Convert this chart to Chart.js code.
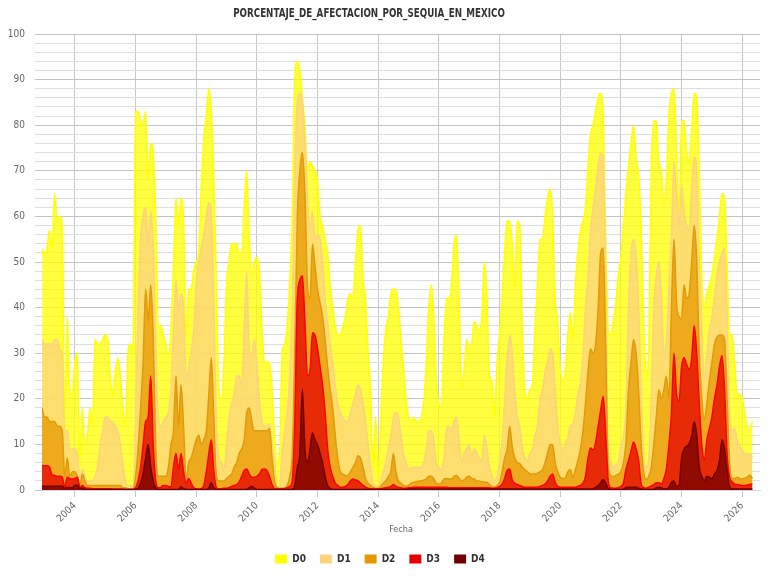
<!DOCTYPE html>
<html>
<head>
<meta charset="utf-8">
<script src="https://cdn.jsdelivr.net/npm/chart.js@4.4.1/dist/chart.umd.min.js"></script>
<style>
  body { margin: 0; background: #fff; }
  #caja { position: relative; width: 768px; height: 576px; }
  #titulo {
    position: absolute; left: 0; top: 6px; width: 738px;
    text-align: center; font: bold 12px 'Liberation Sans Narrow', 'DejaVu Sans Condensed', sans-serif;
    color: #333; line-height: 14px;
    transform: scaleX(0.81); transform-origin: 369px 0;
  }
</style>
</head>
<body>
<div id="caja">
  <canvas id="grafica" width="768" height="576"></canvas>
  <div id="titulo">PORCENTAJE_DE_AFECTACION_POR_SEQUIA_EN_MEXICO</div>
</div>
<script>
// Porcentaje del territorio con sequia, un valor por mes (dic 2002 - may 2026)
// Bloques: dic 2002 + 2003, luego un renglon por año
const D0 = [
  53, 52, 53, 57, 53, 65, 59, 60, 58, 14, 38, 22, 21,
  28, 30, 6, 18, 10, 12, 18, 14, 33, 32, 32, 33,
  34, 33, 25, 21, 26, 29, 25, 18, 14, 30, 32, 30,
  83, 83, 81, 80, 83, 68, 76, 74, 60, 36, 36, 34,
  32, 29, 35, 49, 64, 58, 64, 59, 33, 44, 44, 48,
  50, 52, 66, 77, 82, 88, 83, 68, 45, 22, 20, 28,
  45, 50, 54, 54, 54, 52, 52, 62, 70, 55, 47, 50,
  51, 48, 36, 28, 28, 28, 22, 12, 6, 8, 30, 32,
  36, 45, 60, 90, 94, 92, 86, 80, 70, 72, 71, 70,
  68, 60, 58, 55, 52, 45, 40, 36, 34, 34, 36, 38,
  42, 43, 42, 50, 57, 58, 46, 42, 30, 22, 5, 16,
  3, 15, 28, 35, 38, 43, 44, 44, 40, 33, 27, 20,
  16, 15, 16, 15, 15, 16, 19, 28, 40, 45, 38, 24,
  19, 18, 32, 42, 42, 45, 54, 56, 42, 22, 26, 33,
  31, 32, 37, 36, 35, 38, 50, 43, 25, 24, 16, 28,
  34, 42, 52, 59, 59, 54, 44, 59, 58, 36, 22, 20,
  22, 23, 35, 45, 55, 55, 60, 64, 66, 60, 42, 37,
  27, 24, 26, 34, 39, 33, 45, 52, 57, 59, 62, 71,
  78, 80, 83, 86, 87, 82, 55, 35, 34, 37, 41, 47,
  51, 58, 65, 71, 76, 80, 73, 69, 58, 38, 25, 30,
  70, 81, 81, 72, 70, 63, 68, 82, 87, 88, 75, 60,
  81, 81, 74, 72, 79, 87, 86, 70, 47, 40, 43, 45,
  47, 51, 55, 60, 65, 64, 50, 34, 34, 28, 21, 21,
  20, 17, 14, 13, 15
];

const D1 = [
  33, 32, 32, 32, 32, 33, 33, 31, 30, 13, 13, 9, 9,
  9, 8, 3, 4.5, 3, 2, 2, 2, 3, 5, 10, 13,
  16, 16, 15, 15, 14, 13, 10, 6, 2, 1, 1, 1,
  15, 40, 55, 60, 62, 54, 61, 54, 34, 16, 14, 15,
  16, 17, 22, 35, 46, 40, 43, 40, 24, 27, 30, 35,
  45, 50, 53, 56, 60, 63, 60, 40, 15, 7, 6, 4,
  10, 16, 19, 21, 25, 25, 23, 35, 48, 30, 30, 33,
  28, 20, 15, 14, 14, 14.5, 10, 6, 1, 0.6, 8, 13,
  17, 25, 40, 70, 85, 87, 85, 77, 65, 57, 61, 55,
  56, 55, 50, 42, 37, 32, 28, 23, 19, 17, 16, 15,
  15, 17, 19, 21, 23, 22, 19, 15, 10, 5, 1.3, 1,
  0.6, 2, 4, 6, 9, 12, 16, 17, 16, 12, 8, 6,
  4.5, 5, 5, 5, 5, 5, 6, 9, 13, 13, 11, 6,
  5, 4.5, 7, 13, 14, 13, 15, 16, 11, 6, 8, 9,
  10, 7, 9, 8, 7, 6.5, 12, 9, 5, 3, 2, 3,
  6, 11, 19, 29, 34, 30, 22, 16, 14, 9, 7, 6.5,
  8, 9, 12, 14, 20, 22, 26, 28, 31, 30, 22, 14,
  10, 9, 10, 11.5, 14, 14.5, 17, 21, 23.5, 30, 40, 47,
  57, 62, 66, 71, 74, 73, 45, 8, 6, 5, 5.5, 6,
  9.5, 12, 18, 40, 52, 55, 51, 40, 22, 7, 5, 7,
  20, 40, 47, 50, 43, 30, 33, 45, 56, 72, 65, 58,
  67, 61, 58, 57, 66, 73, 70, 50, 36, 24, 30, 35,
  38, 42, 47, 50, 52, 53, 38, 16, 13, 13.5, 11, 9.5,
  8.7, 8, 7.8, 8, 7.2
];

const D2 = [
  18, 16, 16, 15, 15, 15, 14, 14, 13, 3, 7, 3, 4,
  4, 3, 1, 3.5, 2, 1, 1, 1, 1, 1, 1, 1,
  1, 1, 1, 1, 1, 1, 1, 0.5, 0.5, 0.3, 0.3, 0.2,
  3, 9, 18, 28, 44, 37, 45, 34, 9, 3, 3, 3,
  3, 5, 10, 13, 25, 14, 23, 14, 2, 6, 7, 9,
  11, 12, 10, 11, 13, 21, 29, 15, 3, 2, 2, 2,
  2.5, 3, 3.5, 5, 6, 8, 9, 11, 17, 18, 15, 13,
  13, 13, 13, 13, 13, 13.5, 7, 2, 0.5, 0.4, 0.4, 0.5,
  1, 3, 8, 30, 60, 70, 74, 65, 45, 42, 54, 49,
  44, 41, 38, 33, 27, 22, 18, 12, 7, 4, 3.5, 3.2,
  3.2, 4, 5, 6, 7.5, 7, 5, 2.5, 1.5, 1, 0.6, 0.4,
  0.4, 0.8, 1.5, 2, 3, 4, 8, 4, 2, 1.5, 1, 0.8,
  1, 1.5, 1.7, 1.8, 2, 2, 2.2, 2.4, 3, 3, 2.4, 1.5,
  1.3, 1.5, 2.4, 2.5, 2.4, 2.4, 3, 3.2, 2.5, 2, 2.2, 2.8,
  3, 2.5, 2.4, 2, 2, 1.8, 1.7, 1.7, 1.2, 0.8, 0.6, 1,
  1.7, 4, 7, 9, 14, 9.5, 7, 6, 5.8, 5, 4.5, 4,
  3.6, 3.5, 3.5, 3.7, 4, 4.5, 6, 8, 10, 10, 6, 4,
  2.8, 2.5, 2.6, 4, 4.5, 2.8, 4.5, 6.5, 9, 13, 19, 26,
  31, 30, 32, 40, 52, 53, 30, 5, 3.2, 2.9, 3.2, 3.5,
  4, 6, 10.5, 22, 28, 33, 30, 22, 10, 4, 2.3, 3,
  5, 10, 16, 22, 20, 22, 25, 20, 40, 55, 41, 38,
  37.5, 45, 42, 43, 50, 58, 50, 30, 20, 15.5, 19, 24,
  28, 32, 33.5, 34, 34, 33, 20, 6, 2.5, 2.5, 2.8, 2.5,
  2.4, 2.6, 2.8, 3.3, 2.5
];

const D3 = [
  5.3, 5.3, 5.3, 5, 3.3, 3.2, 3, 3, 2.8, 0.6, 2.8, 2.5, 2.4,
  2.5, 2.8, 0.6, 1, 0.5, 0.4, 0.4, 0.3, 0.3, 0.3, 0.3, 0.3,
  0.3, 0.3, 0.3, 0.2, 0.2, 0.2, 0.2, 0.2, 0.1, 0.1, 0.1, 0.1,
  0.5, 2, 5, 10, 15, 16, 25, 10, 2, 0.5, 0.6, 1,
  1, 0.8, 0.6, 5, 8, 4.5, 8, 4, 1.5, 2.5, 1.5, 0.5,
  0.3, 0.2, 0.3, 1, 4, 8, 11, 4, 0.5, 0.2, 0.3, 0.4,
  0.4, 0.5, 0.8, 1, 1.2, 1.8, 3, 4.3, 4.6, 3.5, 2.8, 2.8,
  3, 3.5, 4.5, 4.6, 4.3, 3, 1.2, 0.3, 0.2, 0.2, 0.3, 0.3,
  0.5, 0.8, 2, 15, 42, 46, 47, 37, 25, 26, 34.5, 34,
  31, 27, 23, 17, 9, 5, 3, 1.5, 1, 0.6, 0.6, 0.8,
  1.2, 2, 2.4, 2.2, 2, 1.5, 1, 0.6, 0.4, 0.3, 0.2, 0.2,
  0.2, 0.3, 0.4, 0.5, 0.6, 0.8, 1.2, 0.8, 0.6, 0.5, 0.4, 0.4,
  0.5, 0.5, 0.6, 0.6, 0.6, 0.6, 0.6, 0.6, 0.6, 0.6, 0.6, 0.6,
  0.6, 0.6, 0.6, 0.6, 0.5, 0.5, 0.5, 0.5, 0.5, 0.5, 0.5, 0.5,
  0.5, 0.5, 0.5, 0.5, 0.5, 0.5, 0.5, 0.5, 0.5, 0.4, 0.4, 0.5,
  0.8, 1.3, 2.5, 4.3, 4.6, 2.2, 1.5, 1.2, 1, 0.8, 0.6, 0.6,
  0.6, 0.6, 0.6, 0.6, 0.8, 1, 1.3, 2, 3, 3.5, 1.7, 0.8,
  0.6, 0.6, 0.6, 0.6, 0.6, 0.6, 0.6, 0.8, 1, 1.5, 3, 7,
  9.2, 8.8, 10.5, 14, 17.5, 20.5, 12, 2, 0.5, 0.4, 0.4, 0.5,
  0.8, 1.5, 4.5, 6.5, 8.5, 10.5, 9, 6.5, 1.3, 0.5, 0.4, 0.6,
  0.9, 1.2, 1.6, 1.6, 1.3, 2.5, 4.7, 10, 17, 30, 21, 19.5,
  27, 29, 27.5, 26.5, 29, 36, 30, 19, 10, 6.5, 11, 13.5,
  16, 20, 23, 27, 29.5, 22, 8, 2.8, 1.8, 1.3, 1.2, 1.1,
  1, 1, 1.1, 1.2, 1.3
];

const D4 = [
  0.8, 0.8, 0.8, 0.8, 0.8, 0.8, 0.8, 0.8, 0.8, 0.3, 0.6, 0.5, 0.5,
  1, 1.1, 0.3, 0.5, 0.1, 0.1, 0.1, 0.1, 0.1, 0.1, 0.1, 0.1,
  0.1, 0.1, 0.1, 0.1, 0.1, 0.1, 0.1, 0.1, 0.1, 0.1, 0.1, 0.1,
  0.1, 0.3, 1.5, 3.7, 7, 10, 5, 2, 0.5, 0.1, 0.1, 0.1,
  0.1, 0.1, 0.1, 0.1, 0.1, 0.1, 0.7, 0.3, 0.1, 0.1, 0.1, 0.1,
  0.1, 0.1, 0.1, 0.1, 0.1, 0.5, 1.6, 0.5, 0.1, 0.1, 0.1, 0.1,
  0.1, 0.1, 0.1, 0.1, 0.1, 0.1, 0.1, 0.1, 0.1, 0.5, 0.8, 0.4,
  0.1, 0.1, 0.1, 0.1, 0.1, 0.1, 0.1, 0.1, 0.1, 0.1, 0.1, 0.1,
  0.1, 0.1, 0.1, 1, 5, 8, 22, 9, 6, 9, 12.5, 11,
  10, 8, 6, 3, 1, 0.3, 0.1, 0.1, 0.1, 0.1, 0.1, 0.1,
  0.1, 0.1, 0.1, 0.1, 0.1, 0.1, 0.1, 0.1, 0.1, 0.1, 0.1, 0.1,
  0.1, 0.1, 0.1, 0.1, 0.1, 0.1, 0.1, 0.1, 0.1, 0.1, 0.1, 0.1,
  0.2, 0.2, 0.2, 0.2, 0.2, 0.2, 0.2, 0.2, 0.2, 0.2, 0.2, 0.2,
  0.2, 0.2, 0.2, 0.2, 0.2, 0.2, 0.2, 0.2, 0.2, 0.2, 0.2, 0.2,
  0.2, 0.2, 0.2, 0.2, 0.2, 0.2, 0.2, 0.2, 0.2, 0.2, 0.2, 0.2,
  0.2, 0.2, 0.2, 0.2, 0.3, 0.2, 0.2, 0.2, 0.2, 0.2, 0.2, 0.2,
  0.2, 0.2, 0.2, 0.2, 0.2, 0.2, 0.2, 0.2, 0.3, 0.3, 0.2, 0.2,
  0.2, 0.2, 0.2, 0.2, 0.2, 0.2, 0.2, 0.2, 0.2, 0.2, 0.2, 0.2,
  0.2, 0.3, 0.6, 1, 1.6, 2.3, 1.5, 0.3, 0.1, 0.1, 0.1, 0.1,
  0.1, 0.2, 0.5, 0.6, 0.6, 0.6, 0.6, 0.4, 0.2, 0.1, 0.1, 0.1,
  0.1, 0.1, 0.5, 0.6, 0.5, 0.2, 0.2, 0.6, 1.7, 2, 0.8, 1,
  7, 9, 9.6, 10.2, 11.8, 15, 12, 5, 3, 2, 3, 2.8,
  2.5, 3.5, 4.3, 6.5, 11, 9, 4.5, 0.8, 0.2, 0.2, 0.2, 0.2,
  0.2, 0.2, 0.2, 0.2, 0.2
];

// Meses de cada registro, "AAAA-MM", empezando en diciembre de 2002
const fechas = [];
for (let i = 0; i < D0.length; i++) {
  const t = 2002 * 12 + 11 + i;
  fechas.push(Math.floor(t / 12) + "-" + String((t % 12) + 1).padStart(2, "0"));
}

// Etiquetas del eje x cada dos años
const aniosEje = [2004, 2006, 2008, 2010, 2012, 2014, 2016, 2018, 2020, 2022, 2024, 2026];

// Fecha "AAAA-MM" a año decimal para la escala lineal
function anioDecimal(f) {
  const [a, m] = f.split("-").map(Number);
  return a + (m - 1) / 12;
}

const xs = fechas.map(anioDecimal);

function serie(valores) {
  return valores.map((v, i) => ({ x: xs[i], y: v }));
}

const fuente = "'Liberation Sans Narrow', 'DejaVu Sans Condensed', sans-serif";

const capas = [
  { label: "D0", data: D0, linea: "#FFFF00", relleno: "rgba(255,255,0,0.75)", caja: "#FFFF00" },
  { label: "D1", data: D1, linea: "#FCD37F", relleno: "rgba(252,211,127,0.75)", caja: "#FFD27F" },
  { label: "D2", data: D2, linea: "#E39A08", relleno: "rgba(230,152,0,0.75)", caja: "#E69800" },
  { label: "D3", data: D3, linea: "#FF0000", relleno: "rgba(230,0,0,0.75)", caja: "#E60000" },
  { label: "D4", data: D4, linea: "#730000", relleno: "rgba(115,0,0,0.75)", caja: "#730000" },
];

const datasets = capas.map((c, i) => ({
  label: c.label,
  data: serie(c.data),
  borderColor: c.linea,
  backgroundColor: c.relleno,
  legendColor: c.caja,
  borderWidth: 1.5,
  fill: "origin",
  pointRadius: 0,
  tension: 0.3,
  cubicInterpolationMode: "monotone",
  order: capas.length - i, // D4 queda arriba
}));

new Chart(document.getElementById("grafica"), {
  type: "line",
  data: { datasets },
  options: {
    responsive: false,
    animation: false,
    layout: { padding: { top: 34, right: 8, left: 0, bottom: 2 } },
    plugins: {
      tooltip: { enabled: false },
      legend: {
        position: "bottom",
        labels: {
          boxWidth: 12,
          boxHeight: 9,
          padding: 14,
          color: "#333",
          font: { family: fuente, size: 10, weight: "bold" },
          sort: (a, b) => a.datasetIndex - b.datasetIndex,
          generateLabels: (chart) =>
            Chart.defaults.plugins.legend.labels.generateLabels(chart).map((l) => {
              const ds = chart.data.datasets[l.datasetIndex];
              l.fillStyle = ds.legendColor;
              l.strokeStyle = ds.legendColor;
              l.lineWidth = 0;
              return l;
            }),
        },
      },
    },
    scales: {
      x: {
        type: "linear",
        min: xs[0],
        max: 2026.585,
        afterFit: (s) => { s.height = 50; },
        afterBuildTicks: (s) => { s.ticks = aniosEje.map((v) => ({ value: v })); },
        ticks: {
          includeBounds: false,
          autoSkip: false,
          minRotation: 45,
          maxRotation: 45,
          color: "#666",
          font: { family: fuente, size: 10 },
          callback: (v) => String(v),
        },
        grid: { color: "#c8c8c8", tickLength: 7 },
        border: { color: "#ccd6eb" },
        title: {
          display: true,
          text: "Fecha",
          color: "#666",
          font: { family: fuente, size: 9 },
          padding: { top: 0, bottom: 5 },
        },
      },
      y: {
        min: 0,
        max: 100,
        afterFit: (s) => { s.width = 42; },
        ticks: {
          stepSize: 2,
          autoSkip: false,
          padding: 10,
          color: "#666",
          font: { family: fuente, size: 10 },
          callback: (v) => (v % 10 === 0 ? v : ""),
        },
        grid: {
          tickLength: 7,
          color: (ctx) => (ctx.tick && ctx.tick.value % 10 === 0 ? "#c4c4c4" : "#dedede"),
        },
        border: { display: false },
      },
    },
  },
});
</script>
</body>
</html>
